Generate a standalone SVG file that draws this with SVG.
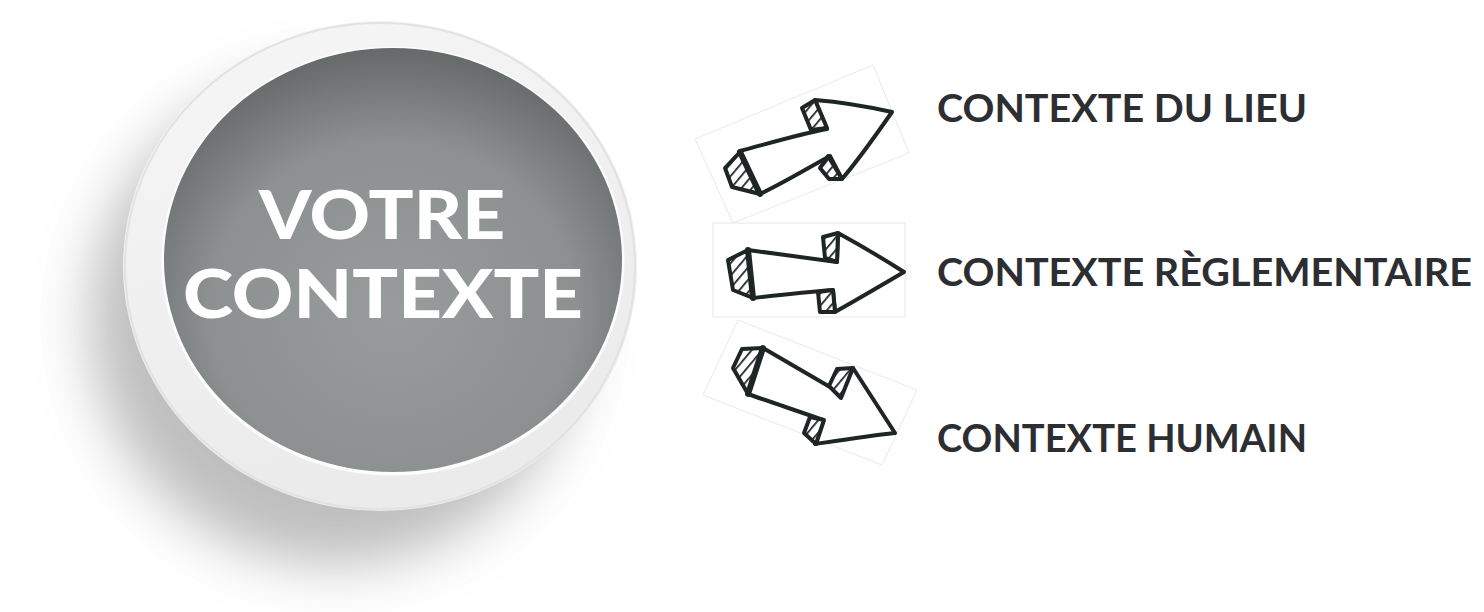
<svg xmlns="http://www.w3.org/2000/svg" width="1484" height="612" viewBox="0 0 1484 612">
<defs>
  <style>
    .arrow { fill: #ffffff; stroke: #1e2525; stroke-width: 4; stroke-linejoin: round; stroke-linecap: round; }
    .hatch { fill: url(#hatch); stroke: #1e2525; stroke-width: 4; stroke-linejoin: round; }
    .thick { fill: none; stroke: #1e2525; stroke-width: 6; stroke-linecap: round; }
    .frame { fill: #ffffff; stroke: #e8e8e8; stroke-width: 1; }
    .label { font-family: Lato, "Liberation Sans", Arial, sans-serif; font-weight: 700; font-size: 38px; fill: #2d2e32; }
    .big { font-family: Lato, "Liberation Sans", Arial, sans-serif; font-weight: 900; font-size: 66px; fill: #ffffff; }
  </style>
  <pattern id="hatch" width="8" height="8" patternUnits="userSpaceOnUse" patternTransform="rotate(40)">
    <rect width="8" height="8" fill="#ffffff"/>
    <line x1="0" y1="0" x2="0" y2="8" stroke="#1e2525" stroke-width="3.5"/>
  </pattern>
  <radialGradient id="inner" cx="0.5" cy="0.62" r="0.62">
    <stop offset="0" stop-color="#999c9d"/>
    <stop offset="0.65" stop-color="#8d9091"/>
    <stop offset="1" stop-color="#656969"/>
  </radialGradient>
  <linearGradient id="ring" x1="0" y1="0" x2="0.3" y2="1">
    <stop offset="0" stop-color="#f6f6f6"/>
    <stop offset="1" stop-color="#ebebeb"/>
  </linearGradient>
  <filter id="shadow" x="-40%" y="-40%" width="180%" height="180%">
    <feGaussianBlur stdDeviation="28"/>
  </filter>
</defs>
<rect width="1484" height="612" fill="#ffffff"/>

<g id="node-votre-contexte">
  <ellipse cx="335" cy="320" rx="245" ry="245" fill="#a9a9a9" opacity="0.75" filter="url(#shadow)"/>
  <ellipse cx="380" cy="266" rx="257" ry="245" fill="url(#ring)"/>
  <ellipse cx="380" cy="266" rx="255" ry="243" fill="none" stroke="#e2e2e2" stroke-width="2"/>
  <ellipse cx="393" cy="261" rx="231.5" ry="214.5" fill="#fcfcfc"/>
  <ellipse cx="393" cy="260" rx="229" ry="212" fill="url(#inner)"/>
  <text class="big" x="259" y="239" textLength="246" lengthAdjust="spacingAndGlyphs">VOTRE</text>
  <text class="big" x="183" y="318" textLength="400" lengthAdjust="spacingAndGlyphs">CONTEXTE</text>
</g>

<g id="node-lieu">
  <polygon class="frame" points="695,139 873,65 909,153 733,223"/>
  <text class="label" x="937" y="122" textLength="370" lengthAdjust="spacingAndGlyphs">CONTEXTE DU LIEU</text>
</g>
<g id="node-reglementaire">
  <rect class="frame" x="713" y="223" width="192" height="94"/>
  <text class="label" x="937" y="286" textLength="535" lengthAdjust="spacingAndGlyphs">CONTEXTE RÈGLEMENTAIRE</text>
</g>
<g id="node-humain">
  <polygon class="frame" points="738,320 917,390 882,465 703,395"/>
  <text class="label" x="937" y="452" textLength="370" lengthAdjust="spacingAndGlyphs">CONTEXTE HUMAIN</text>
</g>

<g id="connectors">
  <g id="arrow-lieu">
    <path class="arrow" d="M740,151 C770,143 800,134 827,129 L815,100 C840,102 865,106 892,112 C876,135 860,158 842,179 L830,156 C808,168 785,182 760,194 Z"/>
    <polygon class="hatch" points="725,168 740,152 760,194 732,187"/>
    <polygon class="hatch" points="802,108 815,100 827,128 811,130"/>
    <polygon class="hatch" points="820,168 828,156 842,179 829,179"/>
    <line class="thick" x1="740" y1="152" x2="760" y2="194"/>
  </g>
  <g id="arrow-reglementaire">
    <path class="arrow" d="M748,250 C778,254 808,258 837,262 L838,233 C860,245 882,258 904,272 C882,285 858,299 835,312 L833,290 C806,292 779,295 753,298 Z"/>
    <polygon class="hatch" points="728,260 748,250 753,298 733,290"/>
    <polygon class="hatch" points="823,237 838,233 837,262 825,258"/>
    <polygon class="hatch" points="820,312 818,292 833,290 835,312"/>
    <line class="thick" x1="748" y1="250" x2="753" y2="298"/>
  </g>
  <g id="arrow-humain">
    <path class="arrow" d="M763,348 C785,361 808,374 830,387 L853,368 C867,390 881,411 895,433 C868,436 842,440 815,444 L823,420 C798,411 773,403 748,394 Z"/>
    <polygon class="hatch" points="742,349 763,348 748,394 733,368"/>
    <polygon class="hatch" points="829,386 837,369 853,368 841,398"/>
    <polygon class="hatch" points="804,433 810,417 824,420 816,444"/>
    <line class="thick" x1="763" y1="348" x2="748" y2="394"/>
  </g>
</g>
</svg>
